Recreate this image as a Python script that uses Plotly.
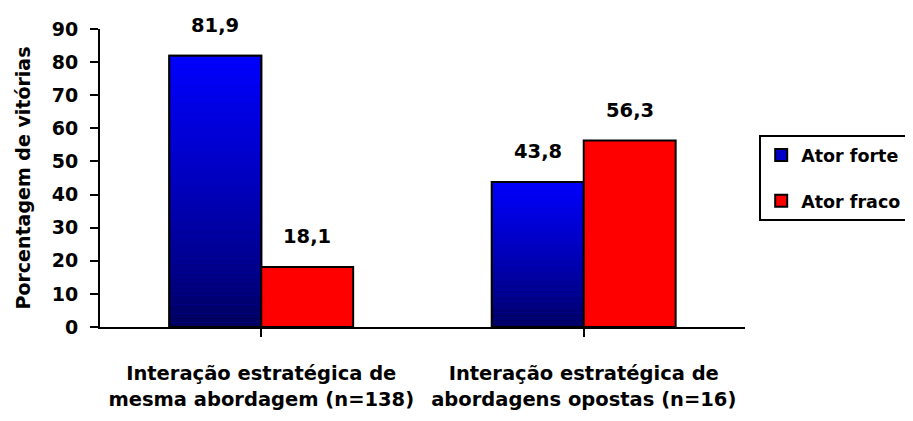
import plotly.graph_objects as go

categories = ["Interação estratégica de<br>mesma abordagem (n=138)",
              "Interação estratégica de<br>abordagens opostas (n=16)"]
forte = [81.9, 43.8]
fraco = [18.1, 56.3]
series_names = ["Ator forte", "Ator fraco"]
y_ticks = [0, 10, 20, 30, 40, 50, 60, 70, 80, 90]

FONT = "DejaVu Sans"
FS = 19
BARGAP = 0.43
N_SEG = 60
x_idx = list(range(len(categories)))

fig = go.Figure()

# base trace for "Ator forte" (legend entry)
fig.add_trace(go.Bar(x=x_idx, y=forte, name=series_names[0], offsetgroup="forte",
                     marker=dict(color="#0000C8", line=dict(color="black", width=2)),
                     legendgroup="a"))

# vertical gradient segments (per bar, bright top -> dark bottom)
for k in range(N_SEG):
    t = (k + 0.5) / N_SEG
    b = int(round(88 + (255 - 88) * (t ** 0.8)))
    col = f"rgb(0,0,{b})"
    fig.add_trace(go.Bar(x=x_idx, y=[v / N_SEG for v in forte],
                         base=[v * k / N_SEG for v in forte],
                         offsetgroup="forte", showlegend=False, hoverinfo="skip",
                         marker=dict(color=col, line=dict(width=0))))

# outline on top
fig.add_trace(go.Bar(x=x_idx, y=forte, offsetgroup="forte", showlegend=False,
                     hoverinfo="skip",
                     marker=dict(color="rgba(0,0,0,0)", line=dict(color="black", width=2))))

fig.add_trace(go.Bar(x=x_idx, y=fraco, name=series_names[1], offsetgroup="fraco",
                     marker=dict(color="#FF0000", line=dict(color="black", width=2)),
                     legendgroup="b"))

half = (1 - BARGAP) / 4
annotations = []
for i, (a, b) in enumerate(zip(forte, fraco)):
    for v, off in ((a, -half), (b, half)):
        annotations.append(dict(x=i + off, y=v, xref="x", yref="y",
                                text=f"{v:.1f}".replace(".", ","), showarrow=False,
                                yanchor="bottom", yshift=17,
                                font=dict(family=FONT, size=FS + 0.5, color="black", weight="bold")))

fig.update_layout(
    width=905, height=413,
    margin=dict(l=92, r=168, t=21, b=94, autoexpand=False),
    paper_bgcolor="white", plot_bgcolor="white",
    barmode="group", bargap=BARGAP, bargroupgap=0,
    annotations=annotations,
    font=dict(family=FONT, color="black", weight="bold"),
    legend=dict(x=1.022, y=0.644, xanchor="left", yanchor="top",
                bordercolor="black", borderwidth=2, bgcolor="white",
                font=dict(family=FONT, size=17.5, color="black", weight="bold"),
                itemwidth=30, entrywidth=160, entrywidthmode="pixels",
                traceorder="grouped", tracegroupgap=20),
    xaxis=dict(tickmode="array", tickvals=x_idx, ticktext=categories,
               range=[-0.5, len(categories) - 0.5],
               showline=True, linecolor="black", linewidth=2,
               ticks="outside", tickson="boundaries", ticklen=8, tickwidth=2, tickcolor="black",
               tickfont=dict(family=FONT, size=FS + 0.5, color="black", weight="bold"),
               ticklabelstandoff=20, showgrid=False, zeroline=False),
    yaxis=dict(range=[0, 90], tickvals=y_ticks,
               showline=True, linecolor="black", linewidth=2,
               ticks="outside", ticklen=8, tickwidth=2, tickcolor="black",
               tickfont=dict(family=FONT, size=FS, color="black", weight="bold"),
               ticklabelstandoff=8,
               title=dict(text="Porcentagem de vitórias", standoff=16,
                          font=dict(family=FONT, size=FS, color="black", weight="bold")),
               showgrid=False, zeroline=False),
)

fig.write_html("out.html")
